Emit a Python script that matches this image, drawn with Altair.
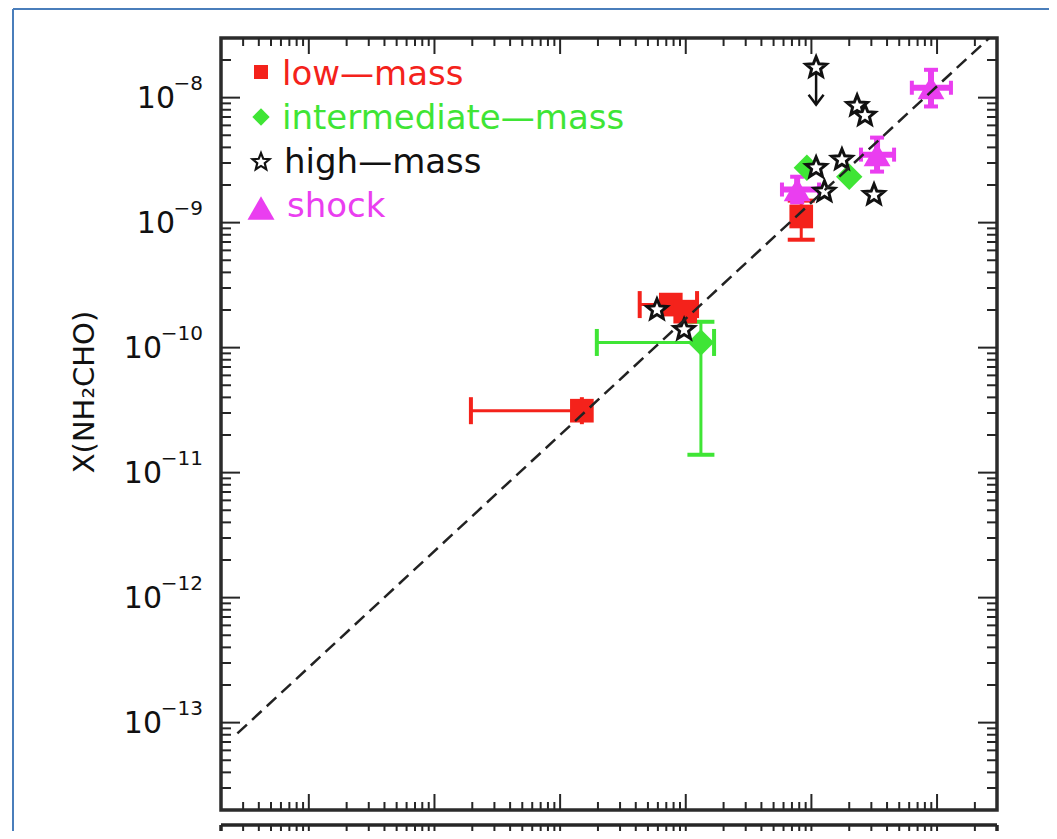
import math
import altair as alt
import pandas as pd

# ---------------- data ----------------
series_names = ["low—mass", "intermediate—mass", "high—mass", "shock"]
series_colors = ["#f4221b", "#3fe535", "#111111", "#ea3ef0"]

low_x = [1.49e-10, 7.6e-10, 9.9e-10, 8.3e-9]
low_y = [3.13e-11, 2.21e-10, 1.94e-10, 1.12e-9]

inter_x = [1.32e-9, 2.0e-8, 9.2e-9]
inter_y = [1.10e-10, 2.33e-9, 2.75e-9]

high_x = [2.31e-8, 2.67e-8, 1.75e-8, 1.09e-8, 1.27e-8, 3.15e-8, 5.9e-10, 9.7e-10]
high_y = [8.6e-9, 7.2e-9, 3.19e-9, 2.75e-9, 1.77e-9, 1.67e-9, 2.01e-10, 1.39e-10]

limit_x = [1.09e-8]
limit_y = [1.74e-8]
limit_tip = [8.8e-9]

shock_x = [8.95e-8, 3.33e-8, 7.7e-9]
shock_y = [1.2e-8, 3.5e-9, 1.84e-9]

xerr_series = ["low—mass", "low—mass", "intermediate—mass", "shock", "shock", "shock"]
xerr_y = [3.13e-11, 2.21e-10, 1.10e-10, 1.2e-8, 3.5e-9, 1.84e-9]
xerr_lo = [1.95e-11, 4.3e-10, 1.96e-10, 6.3e-8, 2.48e-8, 5.83e-9]
xerr_hi = [1.49e-10, 1.23e-9, 1.68e-9, 1.29e-7, 4.55e-8, 1.15e-8]

yerr_series = ["low—mass", "intermediate—mass", "shock", "shock", "shock"]
yerr_x = [8.3e-9, 1.32e-9, 8.95e-8, 3.33e-8, 7.7e-9]
yerr_lo = [7.3e-10, 1.39e-11, 8.5e-9, 2.56e-9, 1.45e-9]
yerr_hi = [1.5e-9, 1.61e-10, 1.67e-8, 4.79e-9, 2.33e-9]

fit_x = [2.7e-13, 2.6e-7]
fit_y = [8.2e-14, 3.0e-8]

x_domain = [2e-13, 3e-7]
y_domain = [2e-14, 3e-8]
x_major = [1e-12, 1e-11, 1e-10, 1e-9, 1e-8, 1e-7]
y_major = [1e-13, 1e-12, 1e-11, 1e-10, 1e-9, 1e-8]
y_exp = ["−13", "−12", "−11", "−10", "−9", "−8"]

y_title = "X(NH₂CHO)"
top_title = "López-Sepulcre et al. 2015"

# ---------------- styles ----------------
W, H = 776, 772
F = "DejaVu Sans"
TC = "#262626"

xs = alt.Scale(type="log", domain=x_domain, nice=False)
ys = alt.Scale(type="log", domain=y_domain, nice=False)
cs = alt.Scale(domain=series_names, range=series_colors)


def X(f):
    return alt.X(f"{f}:Q", scale=xs, axis=None)


def Y(f):
    return alt.Y(f"{f}:Q", scale=ys, axis=None)


def minor(dom, d0, d1):
    out = []
    for d in range(d0, d1 + 1):
        for k in range(2, 10):
            v = k * 10.0 ** d
            if dom[0] * 1.001 < v < dom[1] * 0.999:
                out.append(v)
    return out


pts = []
for k in range(10):
    r = 1.0 if k % 2 == 0 else 0.44
    a = math.radians(-90 + 36 * k)
    pts.append(f"{r * math.cos(a):.3f},{r * math.sin(a):.3f}")
star_path = "M" + "L".join(pts) + "Z"
arrow_path = "M-1,-1.3L0,0L1,-1.3"

layers = []
dummy = pd.DataFrame({"a": [0]})

# frame ticks (inward)
ymaj = pd.DataFrame({"v": y_major})
ymin = pd.DataFrame({"v": minor(y_domain, -14, -8)})
xmaj = pd.DataFrame({"v": x_major})
xmin = pd.DataFrame({"v": minor(x_domain, -13, -7)})
for df, L in [(ymaj, 19), (ymin, 10)]:
    layers.append(alt.Chart(df).mark_rule(color=TC, strokeWidth=2).encode(
        y=Y("v"), x=alt.value(0), x2=alt.value(L)))
    layers.append(alt.Chart(df).mark_rule(color=TC, strokeWidth=2).encode(
        y=Y("v"), x=alt.value(W), x2=alt.value(W - L)))
for df, L, L2 in [(xmaj, 16, 20), (xmin, 8, 10)]:
    layers.append(alt.Chart(df).mark_rule(color=TC, strokeWidth=2).encode(
        x=X("v"), y=alt.value(H), y2=alt.value(H - L)))
    layers.append(alt.Chart(df).mark_rule(color=TC, strokeWidth=2).encode(
        x=X("v"), y=alt.value(0), y2=alt.value(L)))
    layers.append(alt.Chart(df).mark_rule(color=TC, strokeWidth=2).encode(
        x=X("v"), y=alt.value(787), y2=alt.value(787 + L2)))

# second panel frame (cut off)
layers.append(alt.Chart(dummy).mark_rule(color=TC, strokeWidth=3.5).encode(
    x=alt.value(0), x2=alt.value(W), y=alt.value(787)))
for xv in (0, W):
    layers.append(alt.Chart(dummy).mark_rule(color=TC, strokeWidth=3.5).encode(
        x=alt.value(xv), y=alt.value(787), y2=alt.value(810)))

# error bars
xerr = pd.DataFrame({"series": xerr_series, "y": xerr_y, "lo": xerr_lo, "hi": xerr_hi})
yerr = pd.DataFrame({"series": yerr_series, "x": yerr_x, "lo": yerr_lo, "hi": yerr_hi})
col = alt.Color("series:N", scale=cs, legend=None)
sw_expr = "datum.series == 'shock' ? 6 : 3"
cap_expr = "datum.series == 'shock' ? 14 : 27"

layers.append(alt.Chart(xerr).transform_calculate(sw=sw_expr).mark_rule().encode(
    x=X("lo"), x2="hi", y=Y("y"), color=col,
    strokeWidth=alt.StrokeWidth("sw:Q", scale=None, legend=None)))
layers.append(alt.Chart(xerr).transform_calculate(cap=cap_expr)
              .transform_fold(["lo", "hi"], as_=["end", "xv"])
              .mark_tick(orient="vertical", thickness=4, opacity=1).encode(
    x=X("xv"), y=Y("y"), color=col,
    size=alt.Size("cap:Q", scale=None, legend=None)))
layers.append(alt.Chart(yerr).transform_calculate(sw=sw_expr).mark_rule().encode(
    y=Y("lo"), y2="hi", x=X("x"), color=col,
    strokeWidth=alt.StrokeWidth("sw:Q", scale=None, legend=None)))
layers.append(alt.Chart(yerr).transform_calculate(cap=cap_expr)
              .transform_fold(["lo", "hi"], as_=["end", "yv"])
              .mark_tick(orient="horizontal", thickness=4, opacity=1).encode(
    y=Y("yv"), x=X("x"), color=col,
    size=alt.Size("cap:Q", scale=None, legend=None)))

# markers
layers.append(alt.Chart(pd.DataFrame({"x": low_x, "y": low_y})).mark_square(
    size=560, color=series_colors[0], opacity=1).encode(x=X("x"), y=Y("y")))
layers.append(alt.Chart(pd.DataFrame({"x": inter_x, "y": inter_y})).mark_point(
    shape="diamond", filled=True, size=700, color=series_colors[1], opacity=1).encode(
    x=X("x"), y=Y("y")))
layers.append(alt.Chart(pd.DataFrame({"x": shock_x, "y": shock_y})).mark_point(
    shape="triangle-up", filled=True, size=720, color=series_colors[3], opacity=1).encode(
    x=X("x"), y=Y("y")))

lim = pd.DataFrame({"x": limit_x, "y": limit_y, "tip": limit_tip})
layers.append(alt.Chart(lim).mark_rule(color="#111", strokeWidth=2.5).encode(
    x=X("x"), y=Y("y"), y2="tip"))
layers.append(alt.Chart(lim).mark_point(shape=arrow_path, filled=False, size=225,
                                        color="#111", strokeWidth=2.5, opacity=1).encode(
    x=X("x"), y=Y("tip")))

stars = pd.DataFrame({"x": high_x + limit_x, "y": high_y + limit_y})
layers.append(alt.Chart(stars).mark_point(shape=star_path, size=460, fill="white",
                                          stroke="#111", strokeWidth=3, opacity=1,
                                          fillOpacity=1).encode(x=X("x"), y=Y("y")))

# fitted relation (dashed)
layers.append(alt.Chart(pd.DataFrame({"x": fit_x, "y": fit_y})).mark_line(
    color="#222", strokeWidth=2.5, strokeDash=[13, 7], clip=True).encode(
    x=X("x"), y=Y("y")))

# legend
leg_shapes = [("square", 196, True), ("diamond", 300, True), (star_path, 320, False),
              ("triangle-up", 729, True)]
for i, name in enumerate(series_names):
    shp, sz, fill = leg_shapes[i]
    d = pd.DataFrame({"label": [name]})
    sy = [34, 79, 124, 170][i]
    if fill:
        m = alt.Chart(d).mark_point(shape=shp, size=sz, filled=True,
                                    color=series_colors[i], opacity=1)
    else:
        m = alt.Chart(d).mark_point(shape=shp, size=sz, fill="white", stroke="#111",
                                    strokeWidth=2.2, opacity=1, fillOpacity=1)
    layers.append(m.encode(x=alt.value(40), y=alt.value(sy)))
    layers.append(alt.Chart(d).mark_text(font=F, fontSize=34, align="left",
                                         baseline="alphabetic", color=series_colors[i]).encode(
        text="label:N", x=alt.value([61, 61, 63, 66][i]), y=alt.value(47 + 44 * i)))

# y tick labels
lab = pd.DataFrame({"v": y_major, "exp": y_exp})
layers.append(alt.Chart(lab).transform_filter("length(datum.exp) <= 2").mark_text(
    font=F, fontSize=30, align="right", baseline="alphabetic", dy=10, color="#111").encode(
    y=Y("v"), x=alt.value(-46), text=alt.value("10")))
layers.append(alt.Chart(lab).transform_filter("length(datum.exp) > 2").mark_text(
    font=F, fontSize=30, align="right", baseline="alphabetic", dy=10, color="#111").encode(
    y=Y("v"), x=alt.value(-59), text=alt.value("10")))
layers.append(alt.Chart(lab).mark_text(
    font=F, fontSize=20, align="right", baseline="alphabetic", dy=-8, color="#111").encode(
    y=Y("v"), x=alt.value(-18), text="exp:N"))

# y axis title
layers.append(alt.Chart(pd.DataFrame({"t": [y_title]})).mark_text(
    font=F, fontSize=29, angle=270, align="center", baseline="middle", color="#111").encode(
    text="t:N", x=alt.value(-136), y=alt.value(354)))

# page title (cut off at the top, as in the reference) and blue border
layers.append(alt.Chart(pd.DataFrame({"t": [top_title]})).mark_text(
    font=F, fontSize=46, fontWeight="bold", align="center", baseline="alphabetic",
    color="#111").encode(text="t:N", x=alt.value(284), y=alt.value(-38)))
layers.append(alt.Chart(dummy).mark_rule(color="#4a7ebb", strokeWidth=2).encode(
    x=alt.value(-208), x2=alt.value(840), y=alt.value(-29)))
layers.append(alt.Chart(dummy).mark_rule(color="#4a7ebb", strokeWidth=2).encode(
    x=alt.value(-208), y=alt.value(-29), y2=alt.value(810)))

chart = alt.layer(*layers).properties(
    width=W, height=H,
    autosize=alt.AutoSizeParams(type="none"),
    padding={"left": 213, "top": 30, "right": 52, "bottom": 21},
).configure_view(stroke="#2b2b2b", strokeWidth=3.5)

chart.save("out.html", embed_options={"renderer": "svg", "actions": False})
